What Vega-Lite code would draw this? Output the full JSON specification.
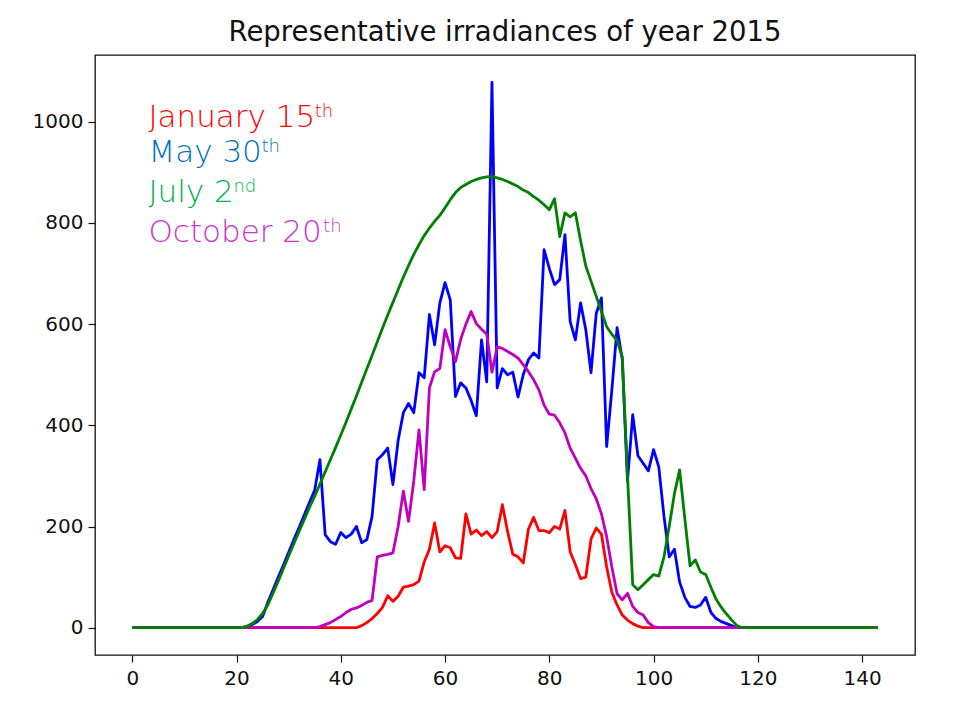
{
  "$schema": "https://vega.github.io/schema/vega-lite/v6.json",
  "width": 820,
  "height": 600,
  "autosize": {"type": "none"},
  "padding": {"left": 95, "top": 55, "right": 52, "bottom": 49},
  "background": "white",
  "config": {
    "view": {"stroke": "#111111", "strokeWidth": 1.3},
    "font": "DejaVu Sans",
    "axis": {"grid": false, "domain": false, "tickColor": "#111111", "tickSize": 7, "tickWidth": 1.2, "labelFontSize": 20, "labelColor": "#111111", "labelFont": "DejaVu Sans", "title": null}
  },
  "title": {"text": "Representative irradiances of year 2015", "fontSize": 27.5, "font": "DejaVu Sans", "fontWeight": "normal", "anchor": "middle", "offset": 9, "color": "#111111"},
  "datasets": {
    "irr": [
      {"x":0,"r":0,"b":0,"g":0,"m":0},{"x":1,"r":0,"b":0,"g":0,"m":0},{"x":2,"r":0,"b":0,"g":0,"m":0},{"x":3,"r":0,"b":0,"g":0,"m":0},
      {"x":4,"r":0,"b":0,"g":0,"m":0},{"x":5,"r":0,"b":0,"g":0,"m":0},{"x":6,"r":0,"b":0,"g":0,"m":0},{"x":7,"r":0,"b":0,"g":0,"m":0},
      {"x":8,"r":0,"b":0,"g":0,"m":0},{"x":9,"r":0,"b":0,"g":0,"m":0},{"x":10,"r":0,"b":0,"g":0,"m":0},{"x":11,"r":0,"b":0,"g":0,"m":0},
      {"x":12,"r":0,"b":0,"g":0,"m":0},{"x":13,"r":0,"b":0,"g":0,"m":0},{"x":14,"r":0,"b":0,"g":0,"m":0},{"x":15,"r":0,"b":0,"g":0,"m":0},
      {"x":16,"r":0,"b":0,"g":0,"m":0},{"x":17,"r":0,"b":0,"g":0,"m":0},{"x":18,"r":0,"b":0,"g":0,"m":0},{"x":19,"r":0,"b":0,"g":0,"m":0},
      {"x":20,"r":0,"b":0,"g":0,"m":0},{"x":21,"r":0,"b":0,"g":0,"m":0},{"x":22,"r":0,"b":2,"g":3,"m":0},{"x":23,"r":0,"b":6,"g":8,"m":0},
      {"x":24,"r":0,"b":12,"g":16,"m":0},{"x":25,"r":0,"b":22,"g":28,"m":0},{"x":26,"r":0,"b":50,"g":45,"m":0},{"x":27,"r":0,"b":75,"g":68,"m":0},
      {"x":28,"r":0,"b":100,"g":92,"m":0},{"x":29,"r":0,"b":124,"g":117,"m":0},{"x":30,"r":0,"b":149,"g":142,"m":0},{"x":31,"r":0,"b":174,"g":166,"m":0},
      {"x":32,"r":0,"b":198,"g":190,"m":0},{"x":33,"r":0,"b":223,"g":214,"m":0},{"x":34,"r":0,"b":248,"g":238,"m":0},{"x":35,"r":0,"b":272,"g":260,"m":0},
      {"x":36,"r":0,"b":332,"g":284,"m":2},{"x":37,"r":0,"b":184,"g":308,"m":6},{"x":38,"r":0,"b":170,"g":332,"m":10},{"x":39,"r":0,"b":165,"g":356,"m":16},
      {"x":40,"r":0,"b":188,"g":381,"m":22},{"x":41,"r":0,"b":178,"g":406,"m":30},{"x":42,"r":0,"b":185,"g":432,"m":36},{"x":43,"r":0,"b":200,"g":458,"m":39},
      {"x":44,"r":4,"b":168,"g":485,"m":44},{"x":45,"r":10,"b":174,"g":512,"m":50},{"x":46,"r":18,"b":220,"g":538,"m":54},{"x":47,"r":28,"b":332,"g":565,"m":140},
      {"x":48,"r":40,"b":342,"g":592,"m":143},{"x":49,"r":63,"b":355,"g":618,"m":145},{"x":50,"r":52,"b":283,"g":643,"m":148},{"x":51,"r":62,"b":370,"g":668,"m":200},
      {"x":52,"r":80,"b":425,"g":693,"m":270},{"x":53,"r":82,"b":443,"g":716,"m":210},{"x":54,"r":85,"b":425,"g":738,"m":290},{"x":55,"r":92,"b":504,"g":757,"m":391},
      {"x":56,"r":130,"b":494,"g":775,"m":273},{"x":57,"r":155,"b":619,"g":790,"m":474},{"x":58,"r":207,"b":559,"g":803,"m":506},{"x":59,"r":150,"b":642,"g":815,"m":512},
      {"x":60,"r":162,"b":682,"g":830,"m":589},{"x":61,"r":158,"b":648,"g":846,"m":555},{"x":62,"r":138,"b":457,"g":860,"m":526},{"x":63,"r":137,"b":484,"g":870,"m":570},
      {"x":64,"r":225,"b":474,"g":876,"m":600},{"x":65,"r":185,"b":449,"g":882,"m":625},{"x":66,"r":193,"b":419,"g":886,"m":601},{"x":67,"r":182,"b":569,"g":889,"m":590},
      {"x":68,"r":190,"b":486,"g":891,"m":580},{"x":69,"r":178,"b":1078,"g":892,"m":505},{"x":70,"r":190,"b":474,"g":889,"m":555},{"x":71,"r":243,"b":512,"g":886,"m":552},
      {"x":72,"r":190,"b":500,"g":882,"m":546},{"x":73,"r":145,"b":505,"g":877,"m":540},{"x":74,"r":140,"b":456,"g":872,"m":533},{"x":75,"r":128,"b":500,"g":865,"m":520},
      {"x":76,"r":195,"b":530,"g":860,"m":506},{"x":77,"r":218,"b":543,"g":852,"m":490},{"x":78,"r":192,"b":533,"g":845,"m":470},{"x":79,"r":192,"b":747,"g":836,"m":440},
      {"x":80,"r":188,"b":710,"g":826,"m":422},{"x":81,"r":200,"b":678,"g":848,"m":420},{"x":82,"r":195,"b":688,"g":773,"m":405},{"x":83,"r":232,"b":777,"g":820,"m":385},
      {"x":84,"r":150,"b":605,"g":812,"m":355},{"x":85,"r":125,"b":569,"g":820,"m":335},{"x":86,"r":97,"b":642,"g":765,"m":315},{"x":87,"r":100,"b":589,"g":715,"m":300},
      {"x":88,"r":175,"b":504,"g":685,"m":275},{"x":89,"r":197,"b":621,"g":655,"m":255},{"x":90,"r":185,"b":652,"g":625,"m":225},{"x":91,"r":120,"b":358,"g":595,"m":180},
      {"x":92,"r":70,"b":470,"g":580,"m":120},{"x":93,"r":45,"b":593,"g":568,"m":67},{"x":94,"r":25,"b":530,"g":535,"m":55},{"x":95,"r":15,"b":290,"g":300,"m":68},
      {"x":96,"r":8,"b":421,"g":85,"m":42},{"x":97,"r":3,"b":340,"g":75,"m":30},{"x":98,"r":0,"b":325,"g":85,"m":25},{"x":99,"r":0,"b":310,"g":95,"m":10},
      {"x":100,"r":0,"b":352,"g":105,"m":2},{"x":101,"r":0,"b":318,"g":102,"m":0},{"x":102,"r":0,"b":220,"g":140,"m":0},{"x":103,"r":0,"b":140,"g":200,"m":0},
      {"x":104,"r":0,"b":155,"g":265,"m":0},{"x":105,"r":0,"b":90,"g":312,"m":0},{"x":106,"r":0,"b":60,"g":215,"m":0},{"x":107,"r":0,"b":42,"g":122,"m":0},
      {"x":108,"r":0,"b":40,"g":134,"m":0},{"x":109,"r":0,"b":45,"g":110,"m":0},{"x":110,"r":0,"b":60,"g":105,"m":0},{"x":111,"r":0,"b":30,"g":80,"m":0},
      {"x":112,"r":0,"b":18,"g":56,"m":0},{"x":113,"r":0,"b":12,"g":40,"m":0},{"x":114,"r":0,"b":8,"g":27,"m":0},{"x":115,"r":0,"b":4,"g":15,"m":0},
      {"x":116,"r":0,"b":0,"g":4,"m":0},{"x":117,"r":0,"b":0,"g":0,"m":0},{"x":118,"r":0,"b":0,"g":0,"m":0},{"x":119,"r":0,"b":0,"g":0,"m":0},
      {"x":120,"r":0,"b":0,"g":0,"m":0},{"x":121,"r":0,"b":0,"g":0,"m":0},{"x":122,"r":0,"b":0,"g":0,"m":0},{"x":123,"r":0,"b":0,"g":0,"m":0},
      {"x":124,"r":0,"b":0,"g":0,"m":0},{"x":125,"r":0,"b":0,"g":0,"m":0},{"x":126,"r":0,"b":0,"g":0,"m":0},{"x":127,"r":0,"b":0,"g":0,"m":0},
      {"x":128,"r":0,"b":0,"g":0,"m":0},{"x":129,"r":0,"b":0,"g":0,"m":0},{"x":130,"r":0,"b":0,"g":0,"m":0},{"x":131,"r":0,"b":0,"g":0,"m":0},
      {"x":132,"r":0,"b":0,"g":0,"m":0},{"x":133,"r":0,"b":0,"g":0,"m":0},{"x":134,"r":0,"b":0,"g":0,"m":0},{"x":135,"r":0,"b":0,"g":0,"m":0},
      {"x":136,"r":0,"b":0,"g":0,"m":0},{"x":137,"r":0,"b":0,"g":0,"m":0},{"x":138,"r":0,"b":0,"g":0,"m":0},{"x":139,"r":0,"b":0,"g":0,"m":0},
      {"x":140,"r":0,"b":0,"g":0,"m":0},{"x":141,"r":0,"b":0,"g":0,"m":0},{"x":142,"r":0,"b":0,"g":0,"m":0},{"x":143,"r":0,"b":0,"g":0,"m":0}
    ],
    "notes": [
      {"who":"Jan","t":"January 15","x":3.1,"y":990},
      {"who":"May","t":"May 30","x":3.1,"y":920},
      {"who":"Jul","t":"July 2","x":3.1,"y":841},
      {"who":"Oct","t":"October 20","x":3.1,"y":762}
    ],
    "sups": [
      {"who":"Jan","t":"th","x":35.0,"y":1010},
      {"who":"May","t":"th","x":24.8,"y":940},
      {"who":"Jul","t":"nd","x":19.4,"y":861},
      {"who":"Oct","t":"th","x":36.6,"y":782}
    ]
  },
  "encoding": {
    "x": {"type": "quantitative", "scale": {"domain": [-7.15, 150.15], "nice": false, "zero": false},
          "axis": {"values": [0, 20, 40, 60, 80, 100, 120, 140], "labelPadding": 6, "format": "d"}},
    "y": {"type": "quantitative", "scale": {"domain": [-54, 1132], "nice": false, "zero": false},
          "axis": {"values": [0, 200, 400, 600, 800, 1000], "labelPadding": 5, "format": "d"}}
  },
  "layer": [
    {"data": {"name": "irr"}, "mark": {"type": "line", "color": "#ff0000", "strokeWidth": 2.8, "strokeJoin": "round"},
     "encoding": {"x": {"field": "x", "type": "quantitative"}, "y": {"field": "r", "type": "quantitative"}}},
    {"data": {"name": "irr"}, "mark": {"type": "line", "color": "#0000ff", "strokeWidth": 2.8, "strokeJoin": "round"},
     "encoding": {"x": {"field": "x", "type": "quantitative"}, "y": {"field": "b", "type": "quantitative"}}},
    {"data": {"name": "irr"}, "mark": {"type": "line", "color": "#bf00bf", "strokeWidth": 2.8, "strokeJoin": "round"},
     "encoding": {"x": {"field": "x", "type": "quantitative"}, "y": {"field": "m", "type": "quantitative"}}},
    {"data": {"name": "irr"}, "mark": {"type": "line", "color": "#008000", "strokeWidth": 2.8, "strokeJoin": "round"},
     "encoding": {"x": {"field": "x", "type": "quantitative"}, "y": {"field": "g", "type": "quantitative"}}},
    {"data": {"name": "notes"}, "mark": {"type": "text", "align": "left", "baseline": "alphabetic", "fontSize": 31, "font": "DejaVu Sans", "fontWeight": 200},
     "encoding": {"x": {"field": "x", "type": "quantitative"}, "y": {"field": "y", "type": "quantitative"}, "text": {"field": "t"},
       "color": {"field": "who", "type": "nominal", "legend": null, "scale": {"domain": ["Jan", "May", "Jul", "Oct"], "range": ["#ff0000", "#0070c0", "#00b050", "#cc33cc"]}}}},
    {"data": {"name": "sups"}, "mark": {"type": "text", "align": "left", "baseline": "alphabetic", "fontSize": 18, "font": "DejaVu Sans", "fontWeight": 200},
     "encoding": {"x": {"field": "x", "type": "quantitative"}, "y": {"field": "y", "type": "quantitative"}, "text": {"field": "t"},
       "color": {"field": "who", "type": "nominal", "legend": null}}}
  ]
}
